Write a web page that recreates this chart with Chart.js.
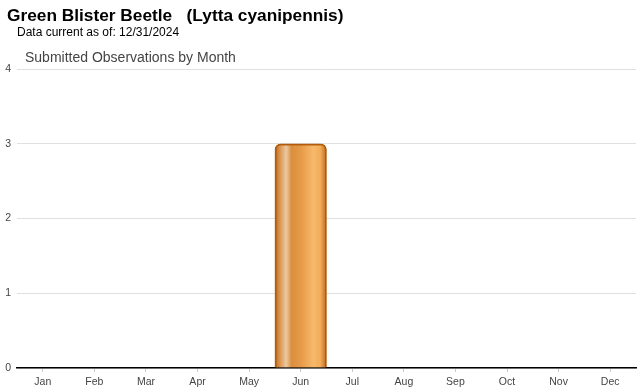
<!DOCTYPE html>
<html>
<head>
<meta charset="utf-8">
<script src="https://cdn.jsdelivr.net/npm/chart.js@4"></script>
<style>
  html,body{margin:0;padding:0;background:#fff;}
  #wrap{position:relative;width:640px;height:390px;overflow:hidden;}
  canvas{position:absolute;left:0;top:0;}
  .t{position:absolute;white-space:pre;font-family:"Liberation Sans",Arial,sans-serif;}
</style>
</head>
<body>
<div id="wrap">
  <canvas id="c" width="640" height="390"></canvas>
  <div class="t" id="title" style="left:7px;top:5px;font-size:17.3px;font-weight:bold;color:#000;"></div>
  <div class="t" id="sub" style="left:17px;top:25px;font-size:12px;color:#000;"></div>
  <div class="t" id="ctitle" style="left:25px;top:49px;font-size:14px;color:#444;"></div>
</div>
<script>
const titleText = "Green Blister Beetle   (Lytta cyanipennis)";
const subtitleText = "Data current as of: 12/31/2024";
const chartTitle = "Submitted Observations by Month";
const months = ["Jan","Feb","Mar","Apr","May","Jun","Jul","Aug","Sep","Oct","Nov","Dec"];
const observations = [0,0,0,0,0,3,0,0,0,0,0,0];
const yTicks = [0,1,2,3,4];

document.getElementById('title').textContent = titleText;
document.getElementById('sub').textContent = subtitleText;
document.getElementById('ctitle').textContent = chartTitle;

function barGradient(context) {
  const chart = context.chart;
  const xs = chart.scales.x;
  if (!chart.chartArea || !xs || context.dataIndex === undefined) return '#e69a48';
  const cx = xs.getPixelForValue(context.dataIndex);
  const w = xs.width / months.length;
  const x0 = cx - w/2, x1 = cx + w/2;
  if (!isFinite(x0) || !isFinite(x1)) return '#e69a48';
  const g = chart.ctx.createLinearGradient(x0, 0, x1, 0);
  g.addColorStop(0.0, '#c06a18');
  g.addColorStop(0.12, '#e0a060');
  g.addColorStop(0.22, '#ecc9a0');
  g.addColorStop(0.32, '#d98f3e');
  g.addColorStop(0.5, '#e69a48');
  g.addColorStop(0.75, '#f7b96a');
  g.addColorStop(0.88, '#f2ad5a');
  g.addColorStop(1.0, '#c06a18');
  return g;
}

new Chart(document.getElementById('c'), {
  type: 'bar',
  data: {
    labels: months,
    datasets: [{
      data: observations,
      backgroundColor: barGradient,
      borderColor: '#b25c0c',
      borderWidth: 2,
      borderRadius: 6,
      categoryPercentage: 1.0,
      barPercentage: 1.0
    }]
  },
  options: {
    responsive: false,
    animation: false,
    devicePixelRatio: 1,
    layout: { padding: { top: 69, right: 4, left: 0, bottom: 0 } },
    plugins: { legend: { display: false }, tooltip: { enabled: false } },
    scales: {
      x: {
        grid: { offset: false, drawOnChartArea: false, drawTicks: true, tickLength: 4, color: '#ccc' },
        border: { display: true, color: '#000', width: 1.5 },
        ticks: { color: '#444', font: { family: '"Liberation Sans", Arial, sans-serif', size: 10.5 }, padding: 4, maxRotation: 0 },
        afterFit(s) { s.height = 22; }
      },
      y: {
        min: 0, max: 4,
        afterBuildTicks(s) { s.ticks = yTicks.map(v => ({ value: v })); },
        grid: { color: '#e0e0e0', drawTicks: false },
        border: { display: false },
        ticks: { color: '#444', font: { family: '"Liberation Sans", Arial, sans-serif', size: 10.5 }, padding: 6 },
        afterFit(s) { s.width = 17; }
      }
    }
  }
});
</script>
</body>
</html>
